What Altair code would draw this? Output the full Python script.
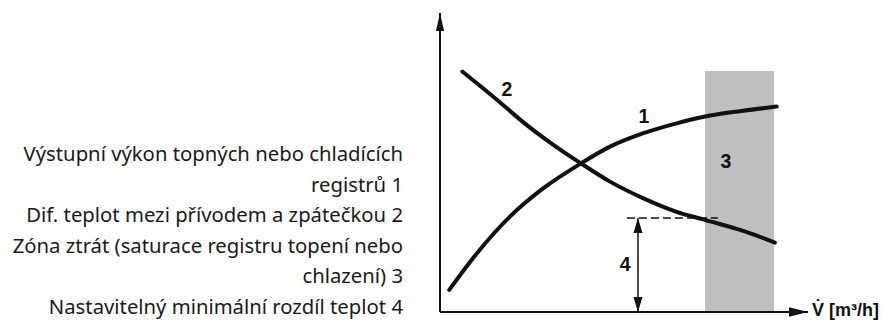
import altair as alt
import pandas as pd

# Curve 1: output power of heating/cooling coil vs. air flow
flow_1 = [2.5, 10.0, 19.0, 28.1, 38.3, 46.2, 55.3, 64.3, 73.4, 82.4, 91.5]
power_1 = [7.4, 19.6, 31.9, 41.4, 49.7, 55.3, 59.8, 63.1, 65.7, 67.3, 68.7]
# Curve 2: temperature difference supply/return vs. air flow
flow_2 = [6.1, 14.5, 23.6, 30.8, 38.3, 46.2, 55.3, 64.3, 72.0, 82.4, 91.0]
dt_2 = [80.4, 72.0, 62.5, 55.9, 49.7, 43.6, 38.0, 33.5, 30.8, 27.1, 23.2]

# Zone 3 (loss zone)
zone_x = [72.0, 90.8]
zone_top = 80.6
# Minimal difference 4
min_dt = 31.4
dash_x = [50.8, 75.5]
arrow4_x = 53.8

# In-chart labels
lab_text = ["1", "2", "3", "4"]
lab_x = [55.4, 18.2, 77.7, 50.3]
lab_y = [65.2, 74.2, 50.2, 15.7]

axis_label = "V\u0307 [m³/h]"

legend_lines = [
    "Výstupní výkon topných nebo chladících\u00a0",
    "registrů 1",
    "Dif. teplot mezi přívodem a zpátečkou 2",
    "Zóna ztrát (saturace registru topení nebo",
    "chlazení) 3",
    "Nastavitelný minimální rozdíl teplot 4",
]

xs = alt.Scale(domain=[0, 100], nice=False, zero=False)
ys = alt.Scale(domain=[0, 100], nice=False, zero=False)
X = lambda f: alt.X(f, type="quantitative", scale=xs, axis=None)
Y = lambda f: alt.Y(f, type="quantitative", scale=ys, axis=None)

curves = pd.DataFrame(
    {"flow": flow_1 + flow_2, "val": power_1 + dt_2,
     "curve": ["1"] * len(flow_1) + ["2"] * len(flow_2)}
)

zone = alt.Chart(pd.DataFrame({"x": [zone_x[0]], "x2": [zone_x[1]], "y": [0], "y2": [zone_top]})).mark_rect(
    color="#bebfc1"
).encode(x=X("x"), x2="x2", y=Y("y"), y2="y2")

lines = alt.Chart(curves).mark_line(
    color="#111111", strokeWidth=4, interpolate="monotone", strokeCap="round"
).encode(x=X("flow"), y=Y("val"), detail="curve:N")

axes_df = pd.DataFrame({"x": [0, 0], "y": [0, 0], "x2": [0, 100], "y2": [100, 0]})
axes = alt.Chart(axes_df).mark_rule(color="#111111", strokeWidth=2).encode(
    x=X("x"), y=Y("y"), x2="x2", y2="y2"
)

y_head = alt.Chart(pd.DataFrame({"x": [0], "y": [100]})).mark_point(
    shape="M0,-1 L0.45,1 L-0.45,1 Z", size=324, filled=True, color="#111111", opacity=1, yOffset=9
).encode(x=X("x"), y=Y("y"))
x_head = alt.Chart(pd.DataFrame({"x": [100], "y": [0]})).mark_point(
    shape="M1,0 L-1,-0.5 L-1,0.5 Z", size=361, filled=True, color="#111111", opacity=1, xOffset=-9.5
).encode(x=X("x"), y=Y("y"))

dash = alt.Chart(pd.DataFrame({"x": [dash_x[0]], "x2": [dash_x[1]], "y": [min_dt]})).mark_rule(
    color="#111111", strokeWidth=1.5, strokeDash=[8, 4]
).encode(x=X("x"), x2="x2", y=Y("y"))

arr4 = alt.Chart(pd.DataFrame({"x": [arrow4_x], "y": [0], "y2": [min_dt]})).mark_rule(
    color="#111111", strokeWidth=1.5
).encode(x=X("x"), y=Y("y"), y2="y2")
arr4_top = alt.Chart(pd.DataFrame({"x": [arrow4_x], "y": [min_dt]})).mark_point(
    shape="M0,-1 L0.6,1 L-0.6,1 Z", size=225, filled=True, color="#111111", opacity=1, yOffset=7.5
).encode(x=X("x"), y=Y("y"))
arr4_bot = alt.Chart(pd.DataFrame({"x": [arrow4_x], "y": [0]})).mark_point(
    shape="M0,1 L0.6,-1 L-0.6,-1 Z", size=225, filled=True, color="#111111", opacity=1, yOffset=-7.5
).encode(x=X("x"), y=Y("y"))

labels = alt.Chart(pd.DataFrame({"t": lab_text, "x": lab_x, "y": lab_y})).mark_text(
    font="Liberation Sans", fontWeight="bold", fontSize=19.5, color="#111111",
    align="center", baseline="middle"
).encode(x=X("x"), y=Y("y"), text="t:N")

xlab = alt.Chart(pd.DataFrame({"t": [axis_label], "x": [100], "y": [0]})).mark_text(
    font="Liberation Sans", fontWeight="bold", fontSize=18, color="#111111",
    align="left", baseline="middle", dx=4, dy=-1
).encode(x=X("x"), y=Y("y"), text="t:N")

legend = alt.Chart(pd.DataFrame({"a": [0]})).mark_text(
    text=legend_lines, font="Noto Sans", fontSize=20.3, color="#1a1a1a",
    align="right", baseline="alphabetic", lineHeight=30.5
).encode(x=alt.value(-37), y=alt.value(148))

chart = alt.layer(
    zone, axes, lines, dash, arr4, arr4_top, arr4_bot, y_head, x_head, labels, xlab, legend
).properties(
    width=368, height=299,
    padding={"left": 432, "top": 5, "right": 71, "bottom": 10},
    autosize=alt.AutoSizeParams(type="none"),
).configure_view(stroke=None)

chart.save("out.html", embed_options={"renderer": "svg", "actions": False})
